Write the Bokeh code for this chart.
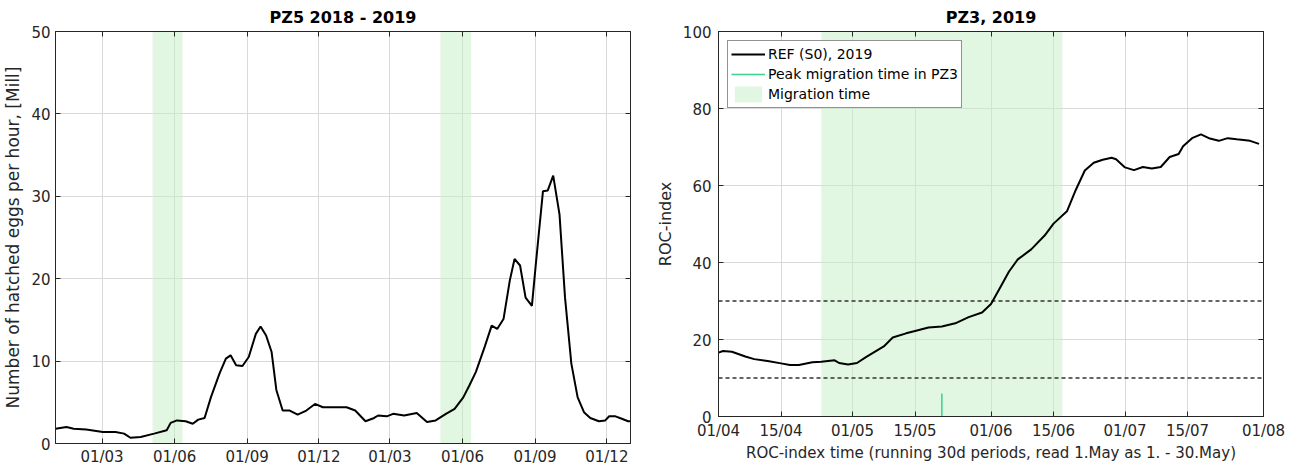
import pandas as pd
from bokeh.plotting import figure
from bokeh.layouts import row
from bokeh.models import (FixedTicker, DatetimeTickFormatter, DatetimeAxis, LinearAxis,
                          Legend, LegendItem, Range1d, CustomJSTickFormatter)
from bokeh.embed import file_html
from bokeh.resources import INLINE

# ---------------- Left panel: PZ5 2018 - 2019 ----------------
pz5_dates = ["2018-01-01", "2018-01-15", "2018-01-24", "2018-02-09", "2018-03-02", "2018-03-18",
             "2018-03-29", "2018-04-06", "2018-04-19", "2018-05-06", "2018-05-22", "2018-05-27",
             "2018-06-04", "2018-06-15", "2018-06-24", "2018-07-01", "2018-07-09", "2018-07-17",
             "2018-07-28", "2018-08-05", "2018-08-11", "2018-08-18", "2018-08-26", "2018-09-03",
             "2018-09-12", "2018-09-18", "2018-09-25", "2018-10-02", "2018-10-08", "2018-10-16",
             "2018-10-25", "2018-11-04", "2018-11-15", "2018-11-26", "2018-12-06", "2018-12-23",
             "2019-01-05", "2019-01-16", "2019-01-29", "2019-02-09", "2019-02-14", "2019-02-25",
             "2019-03-05", "2019-03-19", "2019-04-04", "2019-04-17", "2019-04-28", "2019-05-11",
             "2019-05-22", "2019-06-02", "2019-06-10", "2019-06-18", "2019-06-29", "2019-07-08",
             "2019-07-15", "2019-07-23", "2019-07-31", "2019-08-06", "2019-08-13", "2019-08-20",
             "2019-08-28", "2019-09-02", "2019-09-11", "2019-09-17", "2019-09-24", "2019-10-02",
             "2019-10-09", "2019-10-17", "2019-10-25", "2019-11-02", "2019-11-10", "2019-11-21",
             "2019-11-29", "2019-12-04", "2019-12-12", "2019-12-20", "2019-12-28", "2019-12-31"]
pz5_eggs = [1.8, 2.0, 1.8, 1.7, 1.4, 1.4,
            1.2, 0.7, 0.8, 1.2, 1.6, 2.5,
            2.8, 2.7, 2.4, 2.9, 3.1, 5.6,
            8.5, 10.3, 10.7, 9.5, 9.4, 10.5,
            13.3, 14.2, 13.1, 11.1, 6.5, 4.0,
            4.0, 3.5, 4.0, 4.8, 4.4, 4.4,
            4.4, 4.0, 2.7, 3.1, 3.4, 3.3,
            3.6, 3.4, 3.7, 2.6, 2.8, 3.6,
            4.2, 5.6, 7.1, 8.7, 11.7, 14.3,
            13.9, 15.1, 19.8, 22.4, 21.6, 17.7,
            16.7, 21.8, 30.6, 30.7, 32.5, 27.8,
            17.7, 9.7, 5.6, 3.8, 3.1, 2.7,
            2.8, 3.3, 3.3, 3.0, 2.7, 2.7]
pz5_tick_dates = ["2018-03-01", "2018-06-01", "2018-09-01", "2018-12-01",
                  "2019-03-01", "2019-06-01", "2019-09-01", "2019-12-01"]
pz5_y_ticks = [0, 10, 20, 30, 40, 50]
pz5_mig_start = ["2018-05-04", "2019-05-04"]
pz5_mig_end = ["2018-06-11", "2019-06-12"]
pz5_x_limits = ["2018-01-01", "2019-12-31"]
pz5_y_limits = [0, 50]

# ---------------- Right panel: PZ3, 2019 ----------------
roc_dates = ["2019-04-01", "2019-04-02", "2019-04-04", "2019-04-07", "2019-04-09", "2019-04-12",
             "2019-04-15", "2019-04-17", "2019-04-19", "2019-04-22", "2019-04-24", "2019-04-27",
             "2019-04-28", "2019-04-30", "2019-05-02", "2019-05-04", "2019-05-08", "2019-05-10",
             "2019-05-13", "2019-05-15", "2019-05-18", "2019-05-21", "2019-05-24", "2019-05-27",
             "2019-05-30", "2019-06-01", "2019-06-03", "2019-06-05", "2019-06-07", "2019-06-10",
             "2019-06-13", "2019-06-15", "2019-06-18", "2019-06-20", "2019-06-22", "2019-06-24",
             "2019-06-26", "2019-06-28", "2019-06-29", "2019-07-01", "2019-07-03", "2019-07-05",
             "2019-07-07", "2019-07-09", "2019-07-11", "2019-07-13", "2019-07-14", "2019-07-16",
             "2019-07-18", "2019-07-20", "2019-07-22", "2019-07-24", "2019-07-26", "2019-07-29",
             "2019-07-31"]
roc_values = [16.6, 17.0, 16.8, 15.6, 14.9, 14.4,
              13.8, 13.4, 13.4, 14.1, 14.2, 14.6,
              13.9, 13.5, 13.9, 15.4, 18.2, 20.5,
              21.6, 22.2, 23.1, 23.4, 24.2, 25.8,
              27.0, 29.2, 33.4, 37.6, 40.8, 43.4,
              47.0, 50.1, 53.3, 58.9, 63.9, 65.9,
              66.7, 67.2, 66.8, 64.7, 64.0, 64.8,
              64.4, 64.8, 67.4, 68.2, 70.2, 72.3,
              73.3, 72.2, 71.6, 72.3, 72.0, 71.6,
              70.8]
roc_tick_dates = ["2019-04-01", "2019-04-15", "2019-05-01", "2019-05-15", "2019-06-01",
                  "2019-06-15", "2019-07-01", "2019-07-15", "2019-08-01"]
roc_y_ticks = [0, 20, 40, 60, 80, 100]
roc_mig_start = ["2019-04-24"]
roc_mig_end = ["2019-06-17"]
roc_peak_date = ["2019-05-21"]
roc_peak_height = [6]
roc_thresholds = [10, 30]
roc_x_limits = ["2019-04-01", "2019-08-01"]
roc_y_limits = [0, 100]

# ---------------- styling ----------------
FONT = "DejaVu Sans"
AX = "#262626"
BAND = "#c6f0c6"


def ms(dates):
    return [pd.Timestamp(d).value / 1e6 for d in dates]


def fmt():
    f = "%d/%m"
    return DatetimeTickFormatter(microseconds=f, milliseconds=f, seconds=f, minsec=f, minutes=f,
                                 hourmin=f, hours=f, days=f, months=f, years=f)


def style(p, xticks_ms, yticks, title_standoff):
    xax, yax = p.below[0], p.left[0]
    xax.ticker = FixedTicker(ticks=xticks_ms)
    xax.formatter = fmt()
    yax.ticker = FixedTicker(ticks=yticks)
    for ax in (xax, yax):
        ax.major_label_text_font = FONT
        ax.major_label_text_font_size = "15px"
        ax.major_label_text_color = AX
        ax.axis_label_text_font = FONT
        ax.axis_label_text_font_style = "normal"
        ax.axis_label_text_color = AX
        ax.axis_line_color = AX
        ax.major_tick_line_color = AX
        ax.major_tick_in = 5
        ax.major_tick_out = 0
        ax.minor_tick_line_color = None
        ax.major_label_standoff = 5
    p.xgrid.grid_line_color = "#d9d9d9"
    p.ygrid.grid_line_color = "#d9d9d9"
    p.outline_line_color = AX
    p.outline_line_width = 1
    p.title.text_font = FONT
    p.title.text_font_size = "16px"
    p.title.text_font_style = "bold"
    p.title.text_color = "black"
    p.title.align = "center"
    p.title.standoff = title_standoff
    p.background_fill_color = "white"
    p.border_fill_color = "white"
    # decorative axes on top and right (inward ticks, no labels)
    blank = CustomJSTickFormatter(code="return ''")
    top = DatetimeAxis(ticker=FixedTicker(ticks=xticks_ms), formatter=blank)
    right = LinearAxis(ticker=FixedTicker(ticks=yticks), formatter=blank)
    for ax in (top, right):
        ax.major_label_standoff = 0
        ax.major_tick_in = 5
        ax.major_tick_out = 0
        ax.minor_tick_line_color = None
        ax.axis_line_color = AX
        ax.major_tick_line_color = AX
    p.add_layout(top, "above")
    p.add_layout(right, "right")


# Left figure
p1 = figure(x_axis_type="datetime", output_backend="svg", toolbar_location=None,
            frame_width=575, frame_height=412,
            min_border_left=49, min_border_right=8, min_border_top=25, min_border_bottom=20,
            x_range=Range1d(*ms(pz5_x_limits)), y_range=Range1d(*pz5_y_limits),
            title="PZ5 2018 - 2019")
p1.quad(left=pd.to_datetime(pz5_mig_start), right=pd.to_datetime(pz5_mig_end),
        bottom=pz5_y_limits[0], top=pz5_y_limits[1],
        fill_color=BAND, fill_alpha=0.5, line_color=None)
p1.line(pd.to_datetime(pz5_dates), pz5_eggs, line_color="black", line_width=2)
p1.left[0].axis_label = "Number of hatched eggs per hour, [Mill]"
style(p1, ms(pz5_tick_dates), pz5_y_ticks, 10)
p1.left[0].axis_label_text_font_size = "17px"
p1.left[0].axis_label_standoff = 5
p1.below[0].major_label_standoff = 4

# Right figure
p2 = figure(x_axis_type="datetime", output_backend="svg", toolbar_location=None,
            frame_width=545, frame_height=385,
            min_border_left=80, min_border_right=25, min_border_top=23, min_border_bottom=40,
            x_range=Range1d(*ms(roc_x_limits)), y_range=Range1d(*roc_y_limits),
            title="PZ3, 2019")
band = p2.quad(left=pd.to_datetime(roc_mig_start), right=pd.to_datetime(roc_mig_end),
               bottom=roc_y_limits[0], top=roc_y_limits[1],
               fill_color=BAND, fill_alpha=0.5, line_color=None)
for th in roc_thresholds:
    p2.line(pd.to_datetime(roc_x_limits), [th, th], line_color="#333333",
            line_width=1.3, line_dash="4 3")
peak = p2.segment(x0=pd.to_datetime(roc_peak_date), y0=[0] * len(roc_peak_date),
                  x1=pd.to_datetime(roc_peak_date), y1=roc_peak_height,
                  line_color="#3fcf8e", line_width=1.5)
ref = p2.line(pd.to_datetime(roc_dates), roc_values, line_color="black", line_width=2)
p2.below[0].axis_label = "ROC-index time (running 30d periods, read 1.May as 1. - 30.May)"
p2.left[0].axis_label = "ROC-index"
style(p2, ms(roc_tick_dates), roc_y_ticks, 10)
p2.below[0].axis_label_text_font_size = "15px"
p2.below[0].axis_label_standoff = 1
p2.below[0].major_label_standoff = 5
p2.left[0].axis_label_text_font_size = "16px"
p2.left[0].axis_label_standoff = 5
p2.left[0].major_label_standoff = 7

legend = Legend(items=[LegendItem(label="REF (S0), 2019", renderers=[ref]),
                       LegendItem(label="Peak migration time in PZ3", renderers=[peak]),
                       LegendItem(label="Migration time", renderers=[band])],
                location="top_left", margin=9, padding=3, spacing=0,
                glyph_width=34, glyph_height=20, label_height=20, label_standoff=3,
                label_text_font=FONT, label_text_font_size="14px", label_text_color="black",
                border_line_color=AX, border_line_width=1,
                background_fill_color="white", background_fill_alpha=1.0)
p2.add_layout(legend)

layout = row(p1, p2, spacing=0)
open("out.html", "w").write(file_html(layout, INLINE))
